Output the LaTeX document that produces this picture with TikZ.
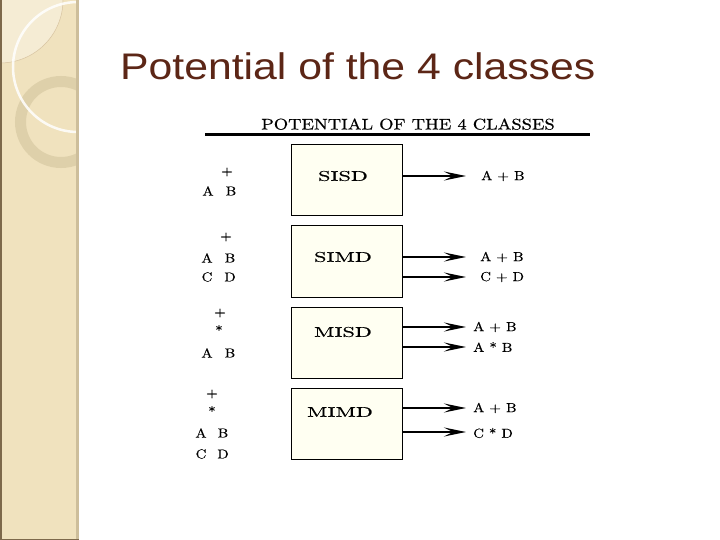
\documentclass[tikz,border=0pt]{standalone}
\usepackage{fontspec}
\newfontfamily\titlefont{Liberation Sans}
\newfontfamily\dgfont{lmroman10-regular}[Extension=.otf, FakeStretch=1.15, FakeBold=0.4]
\usetikzlibrary{arrows.meta}
\definecolor{side}{RGB}{240,226,190}
\definecolor{sidelight}{RGB}{245,236,212}
\definecolor{sideedge}{RGB}{215,195,160}
\definecolor{ringc}{RGB}{222,208,170}
\definecolor{sideshadow}{RGB}{205,190,155}
\definecolor{sidedark}{RGB}{125,105,75}
\definecolor{titlec}{RGB}{92,38,22}
\definecolor{boxfill}{RGB}{255,255,242}
\newcommand{\sx}[1]{\scalebox{1.38}[1]{#1}}
\tikzset{
  box/.style={draw=black, line width=1pt, fill=boxfill, minimum width=111pt, minimum height=71pt, inner sep=0},
  blbl/.style={font=\dgfont\fontsize{14}{14}\selectfont, inner sep=0},
  sm/.style={font=\dgfont\fontsize{13}{13}\selectfont, inner sep=0},
  arr/.style={line width=2pt, -{Stealth[length=22pt,width=9pt,inset=9pt]}}
}
\begin{document}
\begin{tikzpicture}[x=1pt,y=-1pt]
\useasboundingbox (0,0) rectangle (720,540);
\fill[white] (0,0) rectangle (720,540);
% sidebar
\begin{scope}
\clip (0,0) rectangle (78,540);
\fill[side] (0,0) rectangle (78,540);
\fill[sidelight] (0,0) circle (63);
\draw[sideedge, line width=0.5pt] (0,0) circle (63);
\draw[ringc, line width=11pt] (61,122) circle (40.5);
\draw[white, opacity=0.85, line width=2.5pt] (78,67) circle (65);
\end{scope}
\fill[sideshadow] (75.5,0) rectangle (79,540);
\draw[sidedark, line width=1.5pt] (0.75,0) -- (0.75,539.25) -- (79,539.25);
% title
\node[anchor=base west, text=titlec, inner sep=0] (title) at (120,80)
  {\titlefont\fontsize{37}{37}\selectfont\scalebox{1.155}[1]{Potential of the 4 classes}};
% header
\node[anchor=base, inner sep=0] (hdr) at (408,129.5)
  {\dgfont\fontsize{15.4}{15.4}\selectfont\scalebox{1.04}[1]{POTENTIAL OF THE 4 CLASSES}};
\draw[line width=2.2pt] (205,134.5) -- (590,134.5);
% boxes
\node[box] (sisd) at (346.5,180.5) {};
\node[box] (simd) at (346.5,261.5) {};
\node[box] (misd) at (346.5,342.5) {};
\node[box] (mimd) at (346.5,423.5) {};
\node[blbl] (sisdl) at (343,176) {\sx{SISD}};
\node[blbl] (simdl) at (343,257) {\sx{SIMD}};
\node[blbl] (misdl) at (343,332) {\sx{MISD}};
\node[blbl] (mimdl) at (340,412) {\sx{MIMD}};
% arrows
\coordinate (e1) at (466,176);
\coordinate (e2) at (466,257);
\coordinate (e3) at (466,277);
\coordinate (e4) at (466,327);
\coordinate (e5) at (466,347);
\coordinate (e6) at (466,408);
\coordinate (e7) at (466,432);
\draw[arr] (sisd.east |- e1) -- (e1);
\draw[arr] (simd.east |- e2) -- (e2);
\draw[arr] (simd.east |- e3) -- (e3);
\draw[arr] (misd.east |- e4) -- (e4);
\draw[arr] (misd.east |- e5) -- (e5);
\draw[arr] (mimd.east |- e6) -- (e6);
\draw[arr] (mimd.east |- e7) -- (e7);
% outputs
\node[sm, anchor=west] (o1) at (481,176) {A + B};
\node[sm, anchor=west] (o2) at (480,257) {A + B};
\node[sm, anchor=west] (o3) at (480,277) {C + D};
\node[sm, anchor=west] (o4) at (473,327) {A + B};
\node[sm, anchor=west] (o5) at (473,347) {A * B};
\node[sm, anchor=west] (o6) at (473,408) {A + B};
\node[sm, anchor=west] (o7) at (473,433) {C * D};
% inputs SISD
\node[sm] (p1) at (227,172) {+};
\node[sm] (a1) at (208,191) {A};
\node[sm] (b1) at (231,191) {B};
% inputs SIMD
\node[sm] (p2) at (226,237) {+};
\node[sm] (a2) at (207,258) {A};
\node[sm] (b2) at (230,258) {B};
\node[sm] (c2) at (207,277) {C};
\node[sm] (d2) at (230,277) {D};
% inputs MISD
\node[sm] (p3) at (220,313) {+};
\node[sm] (s3) at (219,330) {*};
\node[sm] (a3) at (207,353) {A};
\node[sm] (b3) at (230,353) {B};
% inputs MIMD
\node[sm] (p4) at (212,394) {+};
\node[sm] (s4) at (212,411) {*};
\node[sm] (a4) at (201,433) {A};
\node[sm] (b4) at (223,433) {B};
\node[sm] (c4) at (201,454) {C};
\node[sm] (d4) at (223,454) {D};
\end{tikzpicture}
\end{document}
